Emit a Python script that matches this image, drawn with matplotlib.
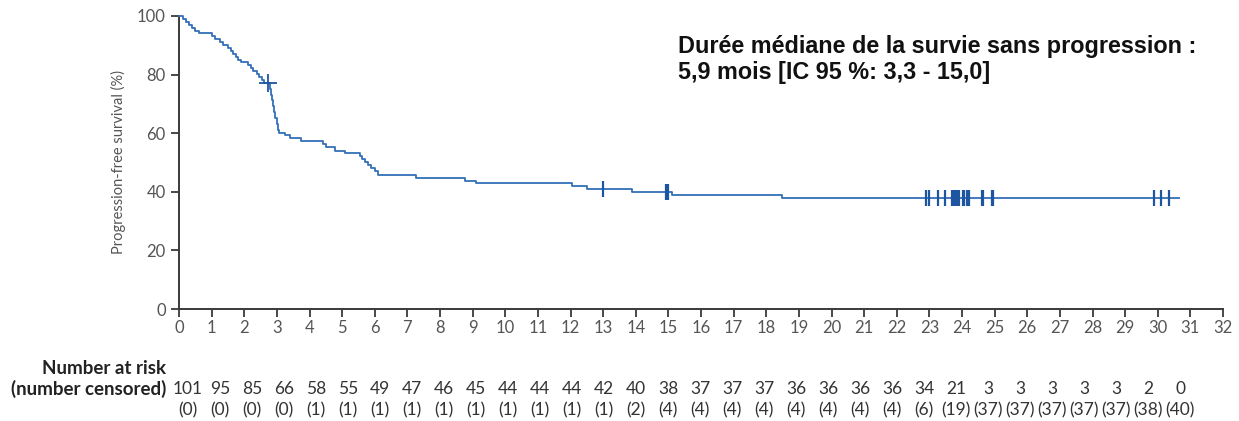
import matplotlib
matplotlib.use("Agg")
import matplotlib.pyplot as plt
import numpy as np

# Kaplan-Meier step curve: time (months) at which each step occurs and survival (%) after it
step_times = [0, 0.12, 0.2, 0.3, 0.4, 0.5, 0.62, 1.0, 1.1, 1.25, 1.35, 1.5, 1.58, 1.65,
              1.75, 1.82, 1.9, 2.1, 2.2, 2.28, 2.38, 2.45, 2.55, 2.62, 2.78, 2.82, 2.85,
              2.88, 2.92, 2.95, 3.0, 3.04, 3.08, 3.24, 3.39, 3.75, 4.41, 4.5, 4.77, 5.1,
              5.55, 5.62, 5.7, 5.78, 5.88, 6.0, 6.1, 7.27, 8.78, 9.1, 12.05, 12.5, 13.9,
              15.1, 18.47]
survival = [100, 99.0, 98.0, 97.0, 96.0, 95.0, 94.1, 93.1, 92.1, 91.1, 90.1, 89.1, 88.1, 87.1,
            86.1, 85.1, 84.2, 83.2, 82.2, 81.2, 80.2, 79.2, 78.2, 77.2, 75.2, 73.2, 71.2,
            69.2, 67.2, 65.2, 63.2, 61.2, 60.1, 59.3, 58.3, 57.3, 56.3, 55.4, 54.0, 53.1,
            52.1, 51.1, 50.1, 49.1, 48.1, 47.1, 45.9, 44.8, 43.8, 43.0, 42.0, 41.0, 39.9,
            38.9, 37.8]
follow_up_end = 30.65

# Censored observations (months)
censor_times = [2.72, 13.0, 14.93, 14.98,
                22.9, 23.0, 23.25, 23.48, 23.7, 23.74, 23.78, 23.82, 23.86, 23.9,
                24.02, 24.06, 24.15, 24.2, 24.6, 24.65, 24.92, 24.96,
                29.87, 30.1, 30.33]

# Number at risk / number censored, at months 0..31
risk_months = list(range(32))
at_risk = [101, 95, 85, 66, 58, 55, 49, 47, 46, 45, 44, 44, 44, 42, 40, 38, 37, 37, 37,
           36, 36, 36, 36, 34, 21, 3, 3, 3, 3, 3, 2, 0]
censored = [0, 0, 0, 0, 1, 1, 1, 1, 1, 1, 1, 1, 1, 1, 2, 4, 4, 4, 4, 4, 4, 4, 4, 6, 19,
            37, 37, 37, 37, 37, 38, 40]

x_ticks = list(range(0, 33))
y_ticks = [0, 20, 40, 60, 80, 100]

title_lines = ["Durée médiane de la survie sans progression :",
               "5,9 mois [IC 95 %: 3,3 - 15,0]"]

W, H = 1239, 421
fig = plt.figure(figsize=(W / 100, H / 100), dpi=100)
fig.patch.set_facecolor("white")

ax_l, ax_r, ax_t, ax_b = 179, 1223, 16, 309
ax = fig.add_axes([ax_l / W, 1 - ax_b / H, (ax_r - ax_l) / W, (ax_b - ax_t) / H])

curve_color = "#3370b7"
mark_color = "#1d55a0"
axis_color = "#3a3a3a"
tick_text = "#555555"
tick_font = "Lato"

t = list(step_times) + [follow_up_end]
s = list(survival) + [survival[-1]]
ax.step(t, s, where="post", color=curve_color, lw=1.3, clip_on=False, zorder=3)

st = np.asarray(step_times)
sv = np.asarray(survival)
cy = [sv[np.searchsorted(st, c, side="right") - 1] for c in censor_times]
ax.plot(censor_times[:1], cy[:1], ls="none", marker="+", ms=13, mew=1.3,
        color=mark_color, zorder=4, clip_on=False)
ax.plot(censor_times[1:], cy[1:], ls="none", marker="|", ms=11, mew=1.6,
        color=mark_color, zorder=4, clip_on=False)

ax.set_xlim(0, 32)
ax.set_ylim(0, 100)
ax.set_xticks(x_ticks)
ax.set_yticks(y_ticks)
for sp in ["top", "right"]:
    ax.spines[sp].set_visible(False)
for sp in ["left", "bottom"]:
    ax.spines[sp].set_color(axis_color)
    ax.spines[sp].set_linewidth(1.4)
ax.tick_params(axis="both", direction="out", color=axis_color, width=1.3,
               length=6, labelsize=12, labelcolor=tick_text)
ax.tick_params(axis="x", length=6, pad=2)
for lab in ax.get_xticklabels() + ax.get_yticklabels():
    lab.set_fontfamily(tick_font)

ax.set_ylabel("Progression-free survival (%)", fontsize=10.5, color=tick_text,
              family=tick_font, labelpad=8)

# Median PFS annotation
fig.text(678 / W, 1 - 46 / H, title_lines[0], family="Liberation Sans",
         weight="bold", fontsize=16.8, color="#111111", va="center", ha="left")
fig.text(678 / W, 1 - 73 / H, title_lines[1], family="Liberation Sans",
         weight="bold", fontsize=16.8, color="#111111", va="center", ha="left")

# Number-at-risk table
fig.text(166 / W, 1 - 369 / H, "Number at risk", family=tick_font, weight="bold",
         fontsize=13.5, color="#222222", ha="right", va="center")
fig.text(166 / W, 1 - 389 / H, "(number censored)", family=tick_font, weight="bold",
         fontsize=13.5, color="#222222", ha="right", va="center")
for i, (m, n, c) in enumerate(zip(risk_months, at_risk, censored)):
    xp = (188 + 32.0 * m) / W
    fig.text(xp, 1 - 389 / H, str(n), family=tick_font, fontsize=12.5,
             color="#333333", ha="center", va="center")
    fig.text(xp, 1 - 410 / H, f"({c})", family=tick_font, fontsize=12.5,
             color="#333333", ha="center", va="center")

fig.savefig("out.png", dpi=100, facecolor="white")
